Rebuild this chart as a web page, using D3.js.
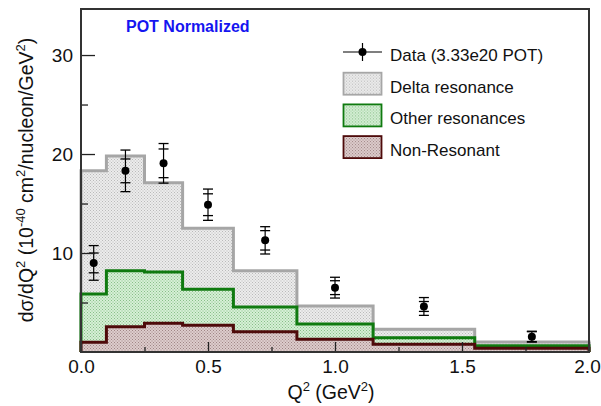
<!DOCTYPE html>
<html>
<head>
<meta charset="utf-8">
<script src="https://cdn.jsdelivr.net/npm/d3@7"></script>
<style>
  body { margin: 0; background: #fff; }
  svg { display: block; font-family: "Liberation Sans", Arial, Helvetica, sans-serif; }
</style>
</head>
<body>
<div id="chart"></div>
<script>
// bin edges in Q^2 (GeV^2)
const binEdges = [0, 0.1, 0.25, 0.4, 0.6, 0.85, 1.15, 1.55, 2.0];

// MC components (stacked: non-resonant at the bottom, delta on top)
const nonResonant = [0.98, 2.56, 2.9, 2.7, 2.05, 1.28, 0.78, 0.37];
const otherRes    = [4.88, 5.64, 5.18, 3.63, 2.50, 1.55, 0.67, 0.27];
const deltaRes    = [12.44, 11.6, 9.02, 6.17, 3.65, 1.82, 0.85, 0.36];

// data points
const dataQ2   = [0.05, 0.175, 0.325, 0.5, 0.725, 1.0, 1.35, 1.775];
const dataVal  = [9.0, 18.3, 19.06, 14.88, 11.28, 6.5, 4.6, 1.55];
const statErr  = [1.0, 1.2, 1.45, 1.1, 0.98, 0.7, 0.5, 0.5];
const totErr   = [1.75, 2.1, 2.0, 1.58, 1.38, 1.05, 0.9, 0.55];

const yMajor = [10, 20, 30];
const yMinor = [5, 15, 25];
const xMajor = [0, 0.5, 1.0, 1.5, 2.0];
const xMinor = [0.25, 0.75, 1.25, 1.75];

const W = 601, H = 406;
const L = 81, R = 589, T = 9, B = 352;

const x = d3.scaleLinear().domain([0, 2]).range([L, R]);
const y = d3.scaleLinear().domain([0, 34.65]).range([B, T]);

const svg = d3.select("#chart").append("svg")
  .attr("width", W).attr("height", H);

// dotted fill patterns, ROOT style
const defs = svg.append("defs");
function dotPattern(id, bg, dot) {
  const p = defs.append("pattern")
    .attr("id", id).attr("patternUnits", "userSpaceOnUse")
    .attr("width", 3).attr("height", 3);
  p.append("rect").attr("width", 3).attr("height", 3).attr("fill", bg);
  p.append("rect").attr("x", 0).attr("y", 0).attr("width", 1).attr("height", 1).attr("fill", dot);
  p.append("rect").attr("x", 1.5).attr("y", 1.5).attr("width", 1).attr("height", 1).attr("fill", dot);
}
dotPattern("patDelta", "#ececec", "#bababa");
dotPattern("patOther", "#d6efd6", "#88bf88");
dotPattern("patNonRes", "#ddcccc", "#a08686");

// stacked tops
const tops = {
  nonres: nonResonant.slice(),
  other: otherRes.map((v, i) => v + nonResonant[i]),
  total: deltaRes.map((v, i) => v + otherRes[i] + nonResonant[i])
};

function stepPath(vals) {
  let d = "M" + x(binEdges[0]) + "," + y(0);
  vals.forEach((v, i) => {
    d += "L" + x(binEdges[i]) + "," + y(v);
    d += "L" + x(binEdges[i + 1]) + "," + y(v);
  });
  d += "L" + x(binEdges[binEdges.length - 1]) + "," + y(0);
  return d;
}

const layers = [
  { vals: tops.total, fill: "url(#patDelta)", stroke: "#a6a6a6" },
  { vals: tops.other, fill: "url(#patOther)", stroke: "#0f7a0f" },
  { vals: tops.nonres, fill: "url(#patNonRes)", stroke: "#4e0a0a" }
];
layers.forEach(l => {
  svg.append("path")
    .attr("d", stepPath(l.vals) + "Z")
    .attr("fill", l.fill).attr("stroke", "none");
  svg.append("path")
    .attr("d", stepPath(l.vals))
    .attr("fill", "none").attr("stroke", l.stroke)
    .attr("stroke-width", 3).attr("stroke-linejoin", "miter");
});

// data points with two error bars (stat inner, total outer)
const pts = svg.append("g");
dataQ2.forEach((q, i) => {
  const cx = x(q);
  const g = pts.append("g");
  g.append("line")
    .attr("x1", cx).attr("x2", cx)
    .attr("y1", y(dataVal[i] + totErr[i])).attr("y2", y(dataVal[i] - totErr[i]))
    .attr("stroke", "#000").attr("stroke-width", 1.2);
  [dataVal[i] + totErr[i], dataVal[i] - totErr[i], dataVal[i] + statErr[i], dataVal[i] - statErr[i]]
    .forEach(v => {
      g.append("line")
        .attr("x1", cx - 5).attr("x2", cx + 5)
        .attr("y1", y(v)).attr("y2", y(v))
        .attr("stroke", "#000").attr("stroke-width", 1.3);
    });
  g.append("circle").attr("cx", cx).attr("cy", y(dataVal[i])).attr("r", 4).attr("fill", "#000");
});

// axes
svg.append("g").attr("transform", `translate(${L},0)`)
  .call(d3.axisLeft(y).tickValues(yMajor).tickSize(-14).tickPadding(8).tickFormat(d3.format("d")));
svg.append("g").attr("transform", `translate(${L},0)`)
  .call(d3.axisLeft(y).tickValues(yMinor).tickSize(-7).tickFormat(""));
const xAxis = svg.append("g").attr("transform", `translate(0,${B})`)
  .call(d3.axisBottom(x).tickValues(xMajor).tickSize(-10).tickPadding(8).tickFormat(d3.format(".1f")));
svg.append("g").attr("transform", `translate(0,${B})`)
  .call(d3.axisBottom(x).tickValues(xMinor).tickSize(-5).tickFormat(""));

svg.selectAll(".domain").remove();
svg.selectAll(".tick line").attr("stroke", "#222").attr("stroke-width", 1.3);
svg.selectAll(".tick text").attr("font-size", 19).attr("fill", "#111")
  .style("font-family", "'Liberation Sans', Arial, sans-serif");
// keep the last label inside the window
xAxis.selectAll(".tick text").filter(d => d === 2.0).attr("dx", -2);

// frame
svg.append("rect")
  .attr("x", L).attr("y", T).attr("width", R - L).attr("height", B - T)
  .attr("fill", "none").attr("stroke", "#333").attr("stroke-width", 2);

// titles
svg.append("text")
  .attr("x", 126).attr("y", 32)
  .attr("font-size", 16).attr("font-weight", "bold").attr("fill", "#1515f0")
  .text("POT Normalized");

const xt = svg.append("text")
  .attr("x", 331).attr("y", 399).attr("text-anchor", "middle")
  .attr("font-size", 19.5).attr("fill", "#111");
xt.append("tspan").text("Q");
xt.append("tspan").attr("dy", -8).attr("font-size", 13).text("2");
xt.append("tspan").attr("dy", 8).text(" (GeV");
xt.append("tspan").attr("dy", -8).attr("font-size", 13).text("2");
xt.append("tspan").attr("dy", 8).text(")");

const yt = svg.append("text")
  .attr("transform", "translate(33,180) rotate(-90)")
  .attr("text-anchor", "middle")
  .attr("font-size", 19.5).attr("fill", "#111");
yt.append("tspan").text("dσ/dQ");
yt.append("tspan").attr("dy", -8).attr("font-size", 13).text("2");
yt.append("tspan").attr("dy", 8).text(" (10");
yt.append("tspan").attr("dy", -8).attr("font-size", 13).text("-40");
yt.append("tspan").attr("dy", 8).text(" cm");
yt.append("tspan").attr("dy", -8).attr("font-size", 13).text("2");
yt.append("tspan").attr("dy", 8).text("/nucleon/GeV");
yt.append("tspan").attr("dy", -8).attr("font-size", 13).text("2");
yt.append("tspan").attr("dy", 8).text(")");

// legend
const legendItems = [
  { label: "Data (3.33e20 POT)", type: "data" },
  { label: "Delta resonance", fill: "url(#patDelta)", stroke: "#a6a6a6" },
  { label: "Other resonances", fill: "url(#patOther)", stroke: "#0f7a0f" },
  { label: "Non-Resonant", fill: "url(#patNonRes)", stroke: "#4e0a0a" }
];
const leg = svg.append("g").attr("transform", "translate(343,52)");
legendItems.forEach((it, i) => {
  const g = leg.append("g").attr("transform", `translate(0,${i * 31.7})`);
  if (it.type === "data") {
    g.append("line").attr("x1", 0).attr("x2", 39).attr("y1", 0).attr("y2", 0)
      .attr("stroke", "#000").attr("stroke-width", 1.2);
    g.append("line").attr("x1", 19.5).attr("x2", 19.5).attr("y1", -9).attr("y2", 9)
      .attr("stroke", "#000").attr("stroke-width", 1.2);
    g.append("circle").attr("cx", 19.5).attr("cy", 0).attr("r", 4).attr("fill", "#000");
  } else {
    g.append("rect").attr("x", 0.5).attr("y", -11).attr("width", 38).attr("height", 22)
      .attr("fill", it.fill).attr("stroke", it.stroke).attr("stroke-width", 1.8);
  }
  g.append("text").attr("x", 47).attr("y", 9)
    .attr("font-size", 17).attr("fill", "#111").text(it.label);
});
</script>
</body>
</html>
